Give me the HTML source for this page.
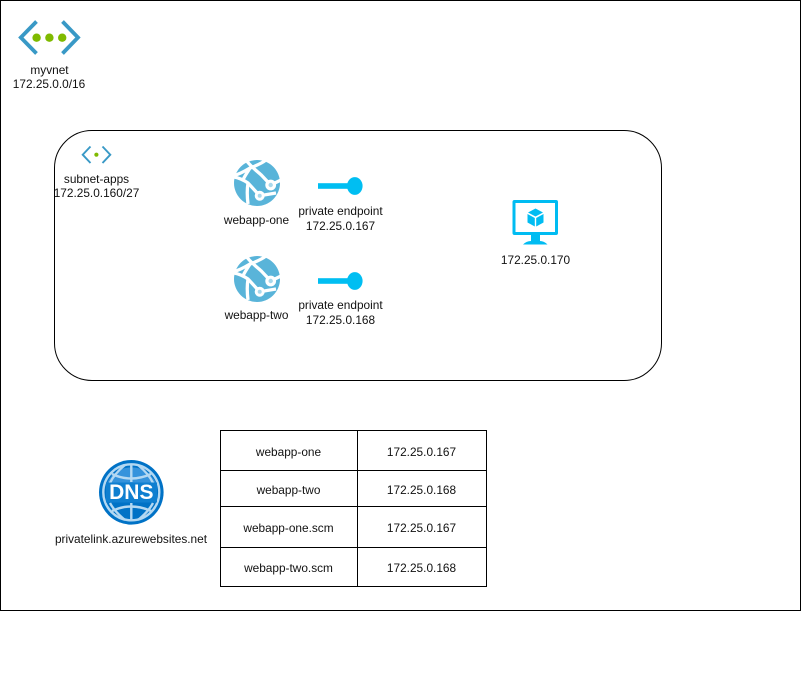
<!DOCTYPE html>
<html><head><meta charset="utf-8"><style>
html,body{margin:0;padding:0;background:#fff;width:801px;height:681px;overflow:hidden}
svg{display:block;position:absolute;left:0;top:0}
.t{position:absolute;width:240px;height:14px;line-height:14px;text-align:center;font-family:"Liberation Sans",sans-serif;font-size:11.85px;color:#111;white-space:nowrap}
</style></head><body>
<svg width="801" height="681" viewBox="0 0 801 681" xmlns="http://www.w3.org/2000/svg">
<defs>
<g id="app">
<circle cx="0" cy="0" r="23" fill="#59b4d9"/>
<g fill="none" stroke="#fff" stroke-width="3.3">
<path d="M-11 -23 C-7 -17 0 -12 4.3 -8 L13.7 2 L24 -3"/>
<path d="M-23 -7.5 C-17 -9 -12 -12 -7 -15 C-2 -17 4 -19 9 -23"/>
<path d="M-23 -6 C-17 -5 -12 -2 -9 0 L2.7 12.7 L19 10"/>
<path d="M-7 -15 C-10 -10 -13 -6 -14 -3"/>
<path d="M-9 0 C-10 6 -10 13 -9 21"/>
</g>
<circle cx="13.7" cy="2" r="5.4" fill="#fff"/><circle cx="13.7" cy="2" r="2.2" fill="#a8d8ec"/>
<circle cx="2.7" cy="12.7" r="5" fill="#fff"/><circle cx="2.7" cy="12.7" r="2" fill="#a8d8ec"/>
</g>
<g id="pe">
<rect x="0" y="-2.8" width="31" height="5.6" fill="#00bef2"/>
<ellipse cx="36.8" cy="0" rx="7.8" ry="8.9" fill="#00bef2"/>
</g>
</defs>

<rect x="0.5" y="0.5" width="800" height="610" fill="#fff" stroke="#000"/>
<rect x="54.5" y="130.5" width="607" height="250" rx="37.5" ry="37.5" fill="#fff" stroke="#000"/>

<!-- vnet icon -->
<g fill="none" stroke="#3999c6" stroke-width="3.8">
<path d="M36.5 21.5 L20.8 37.5 L36.5 53.5"/>
<path d="M62.5 21.5 L78 37.5 L62.5 53.5"/>
</g>
<circle cx="36.6" cy="37.7" r="4.2" fill="#7fba00"/>
<circle cx="49.4" cy="37.7" r="4.2" fill="#7fba00"/>
<circle cx="62.2" cy="37.7" r="4.2" fill="#7fba00"/>

<!-- subnet icon -->
<g fill="none" stroke="#3999c6" stroke-width="1.9">
<path d="M90.5 146.5 L82.7 154.7 L90.5 163"/>
<path d="M102.5 146.5 L110.3 154.7 L102.5 163"/>
</g>
<circle cx="96.4" cy="154.7" r="2.1" fill="#7fba00"/>

<!-- web apps -->
<use href="#app" x="257" y="183"/>
<use href="#app" x="257" y="279"/>

<!-- endpoints -->
<use href="#pe" x="318" y="186"/>
<use href="#pe" x="318" y="281"/>

<!-- VM -->
<path fill-rule="evenodd" fill="#00bcf2" d="M514.5 200 H556 Q558 200 558 202 V233 Q558 235 556 235 H514.5 Q512.5 235 512.5 233 V202 Q512.5 200 514.5 200 Z M515.5 203 V232 H555 V203 Z"/>
<path fill="#00bcf2" d="M531 235 H540 V241 Q544 241 547.5 244.5 H523 Q526.5 241 531 241 Z"/>
<path fill="#00bcf2" d="M535.5 208.5 L543 212.5 L535.5 216.5 L528 212.5 Z"/>
<path fill="#00bcf2" d="M527.5 214 L534.8 218 V226.5 L527.5 222.5 Z"/>
<path fill="#00bcf2" d="M543.5 214 L536.2 218 V226.5 L543.5 222.5 Z"/>

<!-- DNS -->
<circle cx="131.3" cy="492.3" r="32.3" fill="#0072c6"/>
<path d="M107 483 A27 27 0 0 1 156 483 Z" fill="#3593dc"/>
<g fill="none" stroke="#b3d8f2" stroke-width="2.4">
<circle cx="131.3" cy="492.3" r="28"/>
<path d="M112 474 Q131 483 151 474"/>
<path d="M112 511 Q131 502 151 511"/>
<path d="M125 465 Q114 474 110 483"/>
<path d="M138 465 Q149 474 153 483"/>
<path d="M125 520 Q114 511 110 503"/>
<path d="M138 520 Q149 511 153 503"/>
<path d="M131.3 465 V482 M131.3 503 V520"/>
</g>
<rect x="106" y="482.5" width="51" height="20" fill="#0f7fd0"/>

<!-- table -->
<g fill="none" stroke="#000">
<rect x="220.5" y="430.5" width="266" height="156"/>
<path d="M220.5 470.5 H486.5 M220.5 506.5 H486.5 M220.5 547.5 H486.5"/>
<path d="M357.5 430.5 V586.5"/>
</g>
</svg>

<div class="t" style="left:-70.5px;top:63px">myvnet</div>
<div class="t" style="left:-71px;top:77px">172.25.0.0/16</div>
<div class="t" style="left:-23.5px;top:172px">subnet-apps</div>
<div class="t" style="left:-23.5px;top:186px">172.25.0.160/27</div>
<div class="t" style="left:136.5px;top:213px">webapp-one</div>
<div class="t" style="left:136.5px;top:308px">webapp-two</div>
<div class="t" style="left:220.5px;top:204px">private endpoint</div>
<div class="t" style="left:220.5px;top:219px">172.25.0.167</div>
<div class="t" style="left:220.5px;top:298px">private endpoint</div>
<div class="t" style="left:220.5px;top:313px">172.25.0.168</div>
<div class="t" style="left:415.5px;top:253px">172.25.0.170</div>
<div class="t" style="left:11px;top:532px">privatelink.azurewebsites.net</div>
<div class="t" style="left:11.3px;top:481px;height:24px;line-height:24px;font-size:21px;font-weight:700;color:#fff">DNS</div>
<div class="t" style="left:168.5px;top:445px">webapp-one</div>
<div class="t" style="left:301.5px;top:445px">172.25.0.167</div>
<div class="t" style="left:168.5px;top:483px">webapp-two</div>
<div class="t" style="left:301.5px;top:483px">172.25.0.168</div>
<div class="t" style="left:168.5px;top:521px">webapp-one.scm</div>
<div class="t" style="left:301.5px;top:521px">172.25.0.167</div>
<div class="t" style="left:168.5px;top:561px">webapp-two.scm</div>
<div class="t" style="left:301.5px;top:561px">172.25.0.168</div>
</body></html>
